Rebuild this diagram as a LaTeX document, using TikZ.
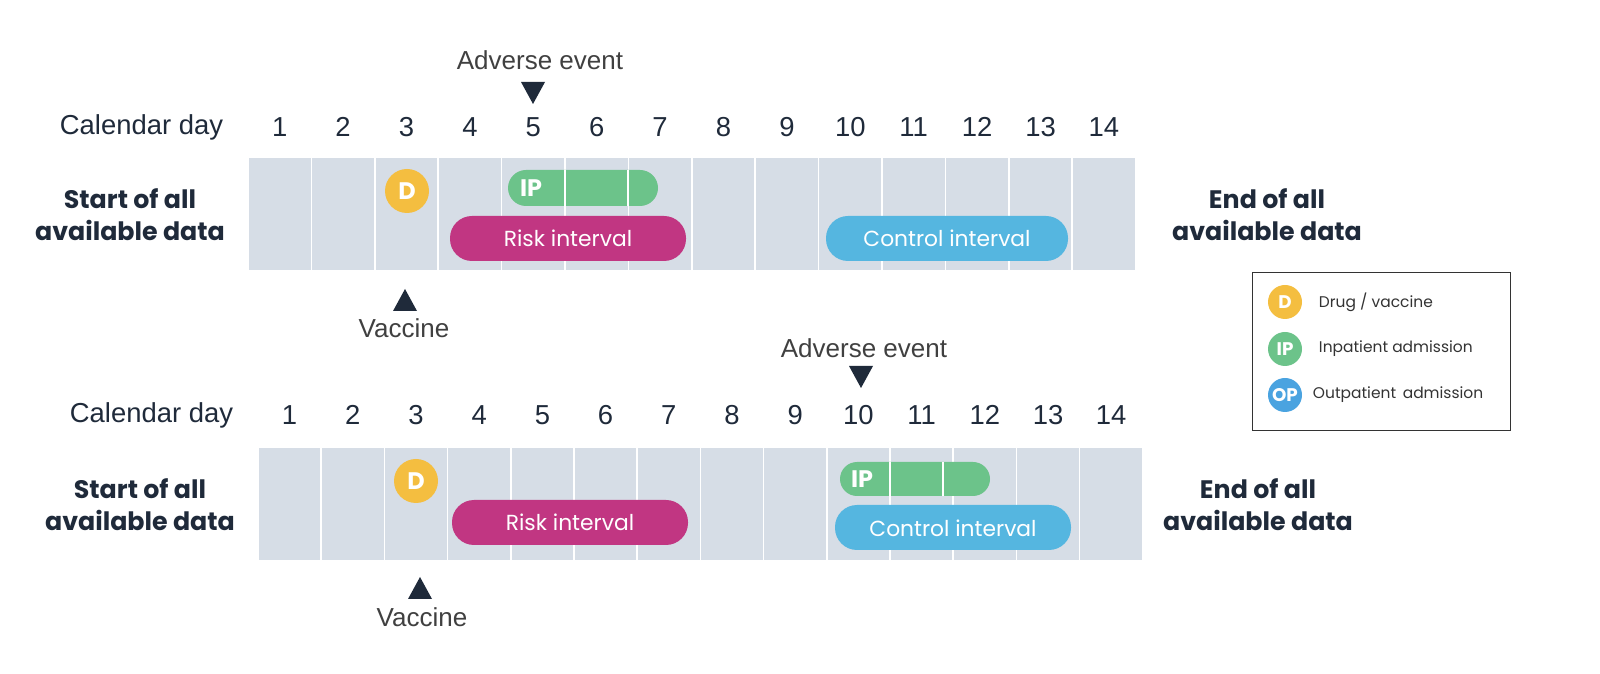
\documentclass[tikz,border=0pt]{standalone}
\usepackage{fontspec}
\setmainfont{Liberation Sans}
\newfontfamily\popfont{Poppins}
\usetikzlibrary{positioning}
\definecolor{cellgray}{HTML}{D6DDE6}
\definecolor{drugyellow}{HTML}{F4BE40}
\definecolor{ipgreen}{HTML}{6CC38A}
\definecolor{riskpink}{HTML}{C13682}
\definecolor{ctrlblue}{HTML}{55B6E0}
\definecolor{opblue}{HTML}{4AA3E0}
\definecolor{darkink}{HTML}{1F2A3A}
\tikzset{
  cell/.style={fill=cellgray, draw=white, line width=1.2pt},
  daylabel/.style={font=\fontsize{19.5}{19.5}\selectfont, text=darkink},
  eventlabel/.style={font=\fontsize{18.5}{18.5}\selectfont, text=black!75},
  sidelabel/.style={font=\popfont\bfseries\fontsize{18}{23}\selectfont, text=darkink, align=center},
  barlabel/.style={font=\popfont\fontsize{15.5}{15.5}\selectfont, text=white},
  badge/.style={circle, inner sep=0pt, minimum size=#1, text=white, font=\popfont\bfseries\fontsize{17}{17}\selectfont},
  marker/.style={fill=darkink, draw=none},
  legendtext/.style={font=\popfont\fontsize{11}{11}\selectfont, text=black!80, anchor=west}
}
\begin{document}
\begin{tikzpicture}[x=0.025cm, y=-0.025cm]
  \useasboundingbox (0,0) rectangle (1600,674);

  % top timeline
  \foreach \d in {1,...,14} {
    \fill[cell] ({248+63.4*(\d-1)},157) rectangle ({248+63.4*\d},271);
    \node[daylabel] (ta\d) at ({248+63.4*(\d-0.5)},127) {\d};
  }
  \node[daylabel, anchor=east] (tcal) at (228,127) {Calendar day};
  \node[sidelabel] (tstart) at (130,215) {Start of all\\available data};
  \node[sidelabel] (tend) at (1267,215) {End of all\\available data};
  \node[badge=44*0.025cm, fill=drugyellow] (tdrug) at (407,191) {D};
  \fill[ipgreen, rounded corners=18*0.025cm] (508,170) rectangle (658,206);
  \draw[white, line width=0.8pt] (565,170) -- (565,206) (628,170) -- (628,206);
  \node[barlabel, font=\popfont\bfseries\fontsize{17}{17}\selectfont] (tip) at (531,188) {IP};
  \fill[riskpink, rounded corners=22*0.025cm] (450,216) rectangle (686,261);
  \node[barlabel] (trisk) at (568,238) {Risk interval};
  \fill[ctrlblue, rounded corners=22*0.025cm] (826,216) rectangle (1068,261);
  \node[barlabel] (tctrl) at (947,238) {Control interval};
  \fill[marker] (521,82) -- (545,82) -- (533,104) -- cycle;
  \node[eventlabel] (tae) at (540,60) {Adverse event};
  \fill[marker] (393,311) -- (417,311) -- (405,289) -- cycle;
  \node[eventlabel] (tvac) at (404,328) {Vaccine};

  % bottom timeline
  \foreach \d in {1,...,14} {
    \fill[cell] ({258+63.2*(\d-1)},447) rectangle ({258+63.2*\d},561);
    \node[daylabel] (ba\d) at ({258+63.2*(\d-0.5)},415) {\d};
  }
  \node[daylabel, anchor=east] (bcal) at (238,415) {Calendar day};
  \node[sidelabel] (bstart) at (140,505) {Start of all\\available data};
  \node[sidelabel] (bend) at (1258,505) {End of all\\available data};
  \node[badge=44*0.025cm, fill=drugyellow] (bdrug) at (416,481) {D};
  \fill[ipgreen, rounded corners=17*0.025cm] (840,462) rectangle (990,496);
  \draw[white, line width=0.8pt] (890,462) -- (890,496) (943,462) -- (943,496);
  \node[barlabel, font=\popfont\bfseries\fontsize{17}{17}\selectfont] (bip) at (862,479) {IP};
  \fill[riskpink, rounded corners=22*0.025cm] (452,500) rectangle (688,545);
  \node[barlabel] (brisk) at (570,522) {Risk interval};
  \fill[ctrlblue, rounded corners=22*0.025cm] (835,505) rectangle (1071,550);
  \node[barlabel] (bctrl) at (953,528) {Control interval};
  \fill[marker] (849,366) -- (873,366) -- (861,388) -- cycle;
  \node[eventlabel] (bae) at (864,348) {Adverse event};
  \fill[marker] (408,599) -- (432,599) -- (420,577) -- cycle;
  \node[eventlabel] (bvac) at (422,617) {Vaccine};

  % legend
  \draw[black!80, line width=0.6pt] (1252,272) rectangle (1510,430);
  \node[badge=34*0.025cm, fill=drugyellow, font=\popfont\bfseries\fontsize{13}{13}\selectfont] (ld) at (1285,302) {D};
  \node[badge=34*0.025cm, fill=ipgreen, font=\popfont\bfseries\fontsize{13}{13}\selectfont] (lip) at (1285,349) {IP};
  \node[badge=34*0.025cm, fill=opblue, font=\popfont\bfseries\fontsize{13}{13}\selectfont] (lop) at (1285,395) {OP};
  \node[legendtext] (ldt) at (1314,302) {Drug / vaccine};
  \node[legendtext] (lipt) at (1314,349) {Inpatient admission};
  \node[legendtext] (lopt) at (1308,395) {Outpatient\, admission};
\end{tikzpicture}
\end{document}
